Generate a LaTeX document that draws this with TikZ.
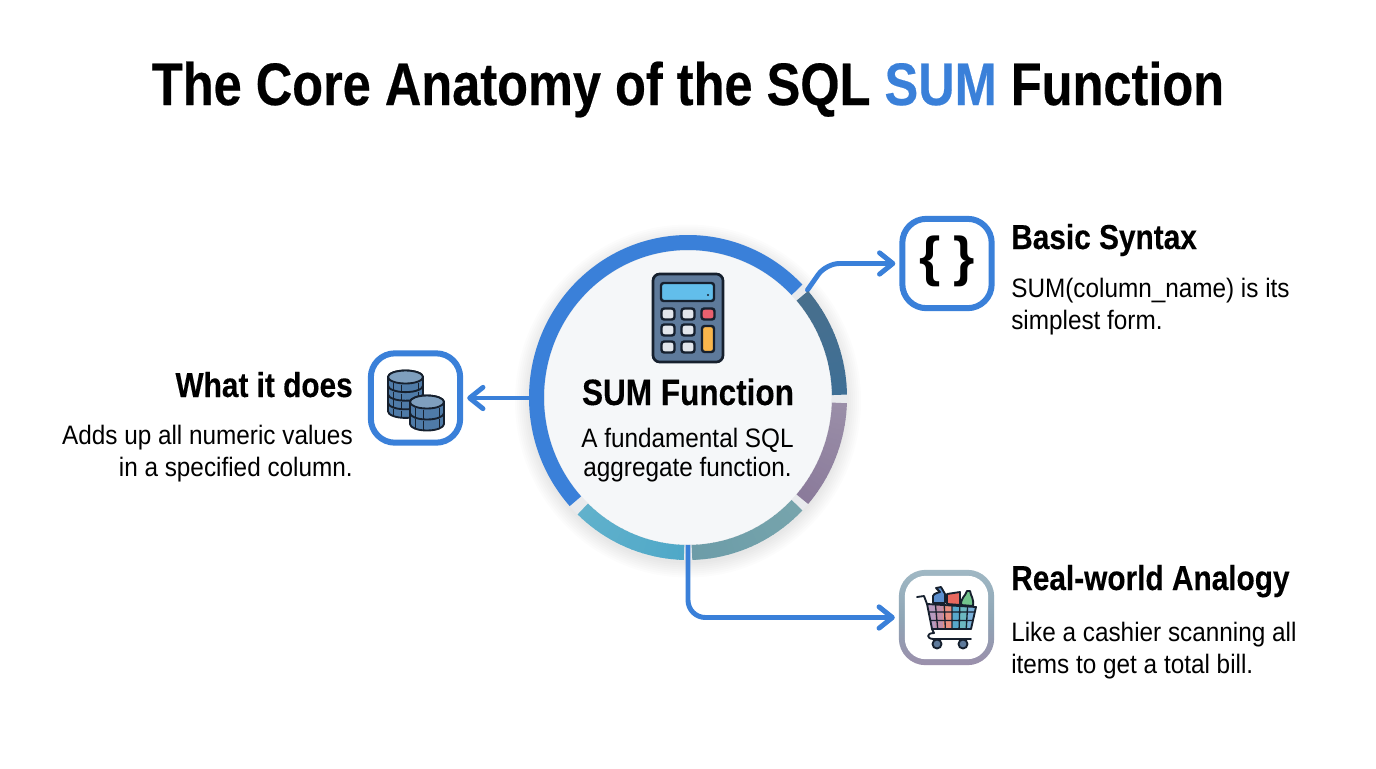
\documentclass[tikz,border=0pt]{standalone}
\usepackage{fontspec}
\setmainfont{Liberation Sans}
\newfontfamily\titlef[FakeStretch=.842,FakeBold=.35]{Liberation Sans}
\newfontfamily\headf[FakeStretch=.86,FakeBold=.25]{Liberation Sans}
\newfontfamily\bodyf[FakeStretch=.912]{Liberation Sans}
\usetikzlibrary{arrows.meta,calc,shapes.geometric}
\newcommand{\hx}[1]{\definecolor{#1}{HTML}{#1}}
\hx{E8EAED}\hx{A0B8C4}\hx{9B8FAB}\hx{8FA6B6}\hx{486F8C}\hx{3E6F96}\hx{9A8EA8}\hx{8A7A9A}\hx{76A4AC}\hx{6C9CA8}\hx{4FA8C8}\hx{62B2CC}\hx{5E7A9B}\hx{62BEEB}\hx{E2E6EC}\hx{E8606F}\hx{F9B64C}\hx{5C8FCF}\hx{E8685F}\hx{72C48C}\hx{B79AC0}\hx{C08EA8}\hx{E88F80}\hx{58A8CC}\hx{6CB8C0}\hx{7AB0D8}
\definecolor{sqlblue}{HTML}{3A80D9}
\definecolor{inkc}{HTML}{16202E}
\definecolor{diskc}{HTML}{F5F7F9}
\definecolor{coinbody}{HTML}{4F7BA8}
\definecolor{cointop}{HTML}{7F9FBE}
\tikzset{
  x=.75pt,y=.75pt,
  conn/.style={draw=sqlblue,line width=3.7pt,rounded corners=#1,line cap=round,
    -{Straight Barb[length=10pt,width=16pt,line width=3.7pt,round]},shorten >=3pt},
  iconbox/.style={draw=sqlblue,line width=4.5pt,fill=white,rounded corners=18pt,minimum size=67pt,inner sep=0pt},
  title/.style={anchor=base,inner sep=0pt,font={\titlef\bfseries\fontsize{45pt}{50pt}\selectfont}},
  headl/.style={inner sep=0pt,font={\headf\bfseries\fontsize{26pt}{30pt}\selectfont}},
  bodyl/.style={inner sep=0pt,font={\bodyf\fontsize{20pt}{24pt}\selectfont}},
  key/.style={draw=inkc,line width=1.8pt,fill=#1,rounded corners=2pt},
  ink/.style={draw=inkc,line width=1.4pt,line join=round,line cap=round},
  oval/.style 2 args={ellipse,inner sep=0pt,minimum width=#1,minimum height=#2},
}
\newcommand{\gradarc}[4]{% from angle, to angle, col1, col2
  \foreach \i in {0,...,20}{
    \pgfmathsetmacro{\ang}{#1+(#2-#1)*\i/20}
    \pgfmathsetmacro{\angb}{#1+(#2-#1)*min(\i+1.15,20)/20}
    \pgfmathsetmacro{\pct}{100-5*\i}
    \colorlet{arcc}{#3!\pct!#4}
    \draw[arcc,line width=11.25pt] ($(688,-397.5)+(\ang:151.5 and 155)$) arc[start angle=\ang,end angle=\angb,x radius=151.5,y radius=155];
  }
}
\newcommand{\coinstack}[5]{% cx, top cy, rx, layers, layer height
  \pgfmathsetmacro{\ry}{6.5}
  \foreach \k in {#4,...,1}{
    \pgfmathsetmacro{\yy}{#2-#5*\k+#5}
    \draw[ink,fill=coinbody] (#1-#3,\yy) -- (#1-#3,\yy-#5) arc[start angle=180,end angle=360,x radius=#3,y radius=\ry]
      -- (#1+#3,\yy) arc[start angle=0,end angle=180,x radius=#3,y radius=\ry] -- cycle;
    \draw[inkc,line width=.7pt] (#1-#3+5,\yy-\ry+.5) -- ++(0,-#5+1.5) (#1+#3-5,\yy-\ry+.5) -- ++(0,-#5+1.5) (#1-4,\yy-\ry-1.5) -- ++(0,-#5+2.5);
  }
  \draw[ink,fill=cointop] (#1,#2) ellipse[x radius=#3,y radius=\ry];
}
\begin{document}
\begin{tikzpicture}
\useasboundingbox (0,-768) rectangle (1376,0);
\fill[white] (0,-768) rectangle (1376,0);

\node[title] (ttl) at (688,-105) {The Core Anatomy of the SQL \textcolor{sqlblue}{SUM} Function};

% soft shadow
\foreach \r in {14,12,...,0}{
  \fill[black,opacity=.012] (688,-401) ellipse[x radius=159+\r,y radius=162.5+\r];
}
\node[oval={238.5pt}{243.75pt}] (core) at (688,-397.5) {};
\fill[E8EAED] (688,-397.5) ellipse[x radius=159,y radius=162.5];
\node[oval={215.25pt}{220.5pt},fill=diskc] (disc) at (688,-397.5) {};

% boxes
\node[iconbox] (boxa) at (415.5,-398) {};
\node[iconbox] (boxb) at (947,-263.5) {};
\node[iconbox,draw=none,outer sep=0pt,minimum size=71.5pt,rounded corners=20pt,top color=A0B8C4,bottom color=9B8FAB,middle color=8FA6B6] (boxc) at (946.5,-617.5) {};
\node[fill=white,rounded corners=15.5pt,minimum size=62.5pt,inner sep=0pt] (boxcin) at (946.5,-617.5) {};

% connectors
\coordinate (bend) at (826,-263.5);
\draw[conn=1pt] (core.west |- boxa.east) -- (boxa.east);
\draw[conn=10pt] (core.42) -- (bend) -- (boxb.west);
\draw[conn=13pt,line cap=butt] (disc.south) |- (boxc.west);

% ring
\draw[sqlblue,line width=11.25pt] ($(688,-397.5)+(44:151.5 and 155)$) arc[start angle=44,end angle=222,x radius=151.5,y radius=155];
\gradarc{41}{1}{486F8C}{3E6F96}
\gradarc{-2}{-41}{9A8EA8}{8A7A9A}
\gradarc{-44}{-88.5}{76A4AC}{6C9CA8}
\gradarc{-91.5}{-134}{4FA8C8}{62B2CC}

% calculator
\draw[draw=inkc,line width=2pt,fill=5E7A9B,rounded corners=5pt] (653,-274) rectangle (723,-362);
\draw[key=62BEEB] (661,-283) rectangle (714,-301);
\fill[inkc] (708,-295) circle[radius=1.2];
\foreach \xx in {668,688}{\foreach \yy in {-314,-330,-347}{
  \draw[key=E2E6EC] (\xx-6.5,\yy-5.5) rectangle (\xx+6.5,\yy+5.5);}}
\draw[key=E8606F] (701.5,-319.5) rectangle (714.5,-308.5);
\draw[key=F9B64C] (702,-326) rectangle (714,-352);

% coins
\coinstack{405.5}{-377}{17.5}{4}{8.6}
\coinstack{427}{-402}{17}{2}{11}

% braces
\node[inner sep=0pt,font={\fontsize{41pt}{44pt}\selectfont\bfseries}] (brace) at (947,-261) {\{\,\hspace{3pt}\}};

% cart
\draw[ink,fill=5C8FCF] (933,-603) -- (933,-596) .. controls (934,-593) and (938,-593) .. (940,-592) -- (936,-588) -- (941,-587) -- (945,-594) -- (945,-603) -- cycle;
\draw[ink,fill=E8685F] (947,-604) -- (947,-594) -- (960,-592) -- (960,-605) -- cycle;
\draw[ink,fill=72C48C] (961,-605) .. controls (961,-597) and (965,-597) .. (967,-591) -- (970,-591) .. controls (971,-597) and (974,-598) .. (973,-606) -- cycle;
\begin{scope}
  \clip (927,-604) -- (976,-607) -- (971,-629) -- (932,-629) -- cycle;
  \foreach \xi/\cc in {0/B79AC0,1/C08EA8,2/E88F80,3/58A8CC,4/6CB8C0,5/7AB0D8}{
    \foreach \yi in {0,1,2}{
      \fill[\cc] (927+\xi*8.2,-604-\yi*8.4) rectangle ++(8.2,-8.4);
    }}
  \draw[inkc,line width=1pt] (927,-612) -- (976,-612) (927,-620.5) -- (976,-620.5)
    (935,-600) -- (938,-632) (944,-600) -- (945.5,-632) (952,-600) -- (952,-632) (960,-600) -- (959,-632) (968,-600) -- (966,-632);
\end{scope}
\draw[ink] (927,-604) -- (976,-607) -- (971,-629) -- (932,-629) -- cycle;
\draw[ink] (917,-597) -- (924,-596) -- (927,-604) (932,-629) -- (934,-633) .. controls (926,-633) and (926,-639) .. (934,-639) -- (971,-639);
\draw[ink,fill=5E7A9B] (937,-644) circle[radius=4.5];
\draw[ink,fill=5E7A9B] (963,-644) circle[radius=4.5];

% texts
\node[headl,anchor=base,font={\headf\bfseries\fontsize{27.5pt}{30pt}\selectfont}] (sumt) at (688,-405) {SUM Function};
\node[bodyl,anchor=base] (sum1) at (687.5,-447) {A fundamental SQL};
\node[bodyl,anchor=base] (sum2) at (687.5,-476) {aggregate function.};

\node[headl,anchor=base east] (a0) at (353,-397) {What it does};
\node[bodyl,anchor=base east] (a1) at (353,-444) {Adds up all numeric values};
\node[bodyl,anchor=base east] (a2) at (353,-476) {in a specified column.};

\node[headl,anchor=base west] (b0) at (1011,-249) {Basic Syntax};
\node[bodyl,anchor=base west] (b1) at (1011,-297) {SUM(column\_name) is its};
\node[bodyl,anchor=base west] (b2) at (1011,-329) {simplest form.};

\node[headl,anchor=base west] (c0) at (1011,-590) {Real-world Analogy};
\node[bodyl,anchor=base west] (c1) at (1011,-641) {Like a cashier scanning all};
\node[bodyl,anchor=base west] (c2) at (1011,-673) {items to get a total bill.};
\end{tikzpicture}
\end{document}
